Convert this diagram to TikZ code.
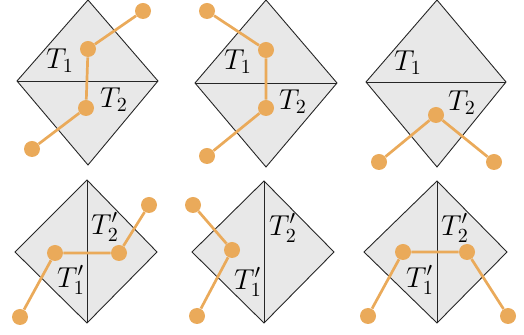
\documentclass[tikz,border=0pt]{standalone}
\usepackage{amsmath,amssymb}
\usepackage{xcolor}
\usepackage{tikz}

\definecolor{dotorange}{RGB}{234,170,90}
\definecolor{cellgray}{RGB}{232,232,232}

\begin{document}
\begin{tikzpicture}[
  x=0.5pt, y=-0.5pt,
  cell/.style={draw=black!85, fill=cellgray, line width=0.45pt, line join=miter},
  diag/.style={draw=black!85, line width=0.45pt},
  pt/.style={circle, fill=dotorange, inner sep=0pt, minimum size=8pt},
  link/.style={draw=dotorange, line width=1.35pt},
  lab/.style={font=\Large, inner sep=0pt}
]
\useasboundingbox (0,0) rectangle (524,335);

% top row: horizontal shared edge
\coordinate (a1t) at (88,0);   \coordinate (a1l) at (17,81);
\coordinate (a1r) at (158,81); \coordinate (a1b) at (88,165);
\path[cell] (a1t) -- (a1r) -- (a1b) -- (a1l) -- cycle;
\draw[diag] (a1l) -- (a1r);
\node[lab] (a1T1) at (60,61) {$T_1$};
\node[lab] (a1T2) at (114,100) {$T_2$};
\node[pt] (a1p) at (143,11) {};
\node[pt] (a1q) at (88,49) {};
\node[pt] (a1r2) at (86,108) {};
\node[pt] (a1s) at (32,149) {};
\draw[link] (a1p) -- (a1q) -- (a1r2) -- (a1s);

\coordinate (a2t) at (266,0);   \coordinate (a2l) at (195,83);
\coordinate (a2r) at (337,83);  \coordinate (a2b) at (266,167);
\path[cell] (a2t) -- (a2r) -- (a2b) -- (a2l) -- cycle;
\draw[diag] (a2l) -- (a2r);
\node[lab] (a2T1) at (238,62) {$T_1$};
\node[lab] (a2T2) at (293,102) {$T_2$};
\node[pt] (a2p) at (207,11) {};
\node[pt] (a2q) at (266,50) {};
\node[pt] (a2r2) at (266,108) {};
\node[pt] (a2s) at (207,156) {};
\draw[link] (a2p) -- (a2q) -- (a2r2) -- (a2s);

\coordinate (a3t) at (437,0);   \coordinate (a3l) at (366,82);
\coordinate (a3r) at (506,82);  \coordinate (a3b) at (437,167);
\path[cell] (a3t) -- (a3r) -- (a3b) -- (a3l) -- cycle;
\draw[diag] (a3l) -- (a3r);
\node[lab] (a3T1) at (408,63) {$T_1$};
\node[lab] (a3T2) at (462,103) {$T_2$};
\node[pt] (a3q) at (436,115) {};
\node[pt] (a3p) at (379,162) {};
\node[pt] (a3s) at (494,162) {};
\draw[link] (a3p) -- (a3q) -- (a3s);

% bottom row: vertical shared edge
\coordinate (b1t) at (87,180);  \coordinate (b1l) at (15,252);
\coordinate (b1r) at (157,252); \coordinate (b1b) at (87,323);
\path[cell] (b1t) -- (b1r) -- (b1b) -- (b1l) -- cycle;
\draw[diag] (b1t) -- (b1b);
\node[lab] (b1T2) at (105,227) {$T_2'$};
\node[lab] (b1T1) at (71,280) {$T_1'$};
\node[pt] (b1p) at (20,317) {};
\node[pt] (b1q) at (55,253) {};
\node[pt] (b1r2) at (119,253) {};
\node[pt] (b1s) at (149,205) {};
\draw[link] (b1p) -- (b1q) -- (b1r2) -- (b1s);

\coordinate (b2t) at (264,181); \coordinate (b2l) at (192,252);
\coordinate (b2r) at (334,252); \coordinate (b2b) at (264,323);
\path[cell] (b2t) -- (b2r) -- (b2b) -- (b2l) -- cycle;
\draw[diag] (b2t) -- (b2b);
\node[lab] (b2T2) at (283,228) {$T_2'$};
\node[lab] (b2T1) at (248,282) {$T_1'$};
\node[pt] (b2p) at (193,205) {};
\node[pt] (b2q) at (232,250) {};
\node[pt] (b2s) at (197,316) {};
\draw[link] (b2p) -- (b2q) -- (b2s);

\coordinate (b3t) at (437,181); \coordinate (b3l) at (364,252);
\coordinate (b3r) at (507,252); \coordinate (b3b) at (437,323);
\path[cell] (b3t) -- (b3r) -- (b3b) -- (b3l) -- cycle;
\draw[diag] (b3t) -- (b3b);
\node[lab] (b3T2) at (455,228) {$T_2'$};
\node[lab] (b3T1) at (420,280) {$T_1'$};
\node[pt] (b3p) at (368,316) {};
\node[pt] (b3q) at (403,252) {};
\node[pt] (b3r2) at (467,252) {};
\node[pt] (b3s) at (508,316) {};
\draw[link] (b3p) -- (b3q) -- (b3r2) -- (b3s);
\end{tikzpicture}
\end{document}
